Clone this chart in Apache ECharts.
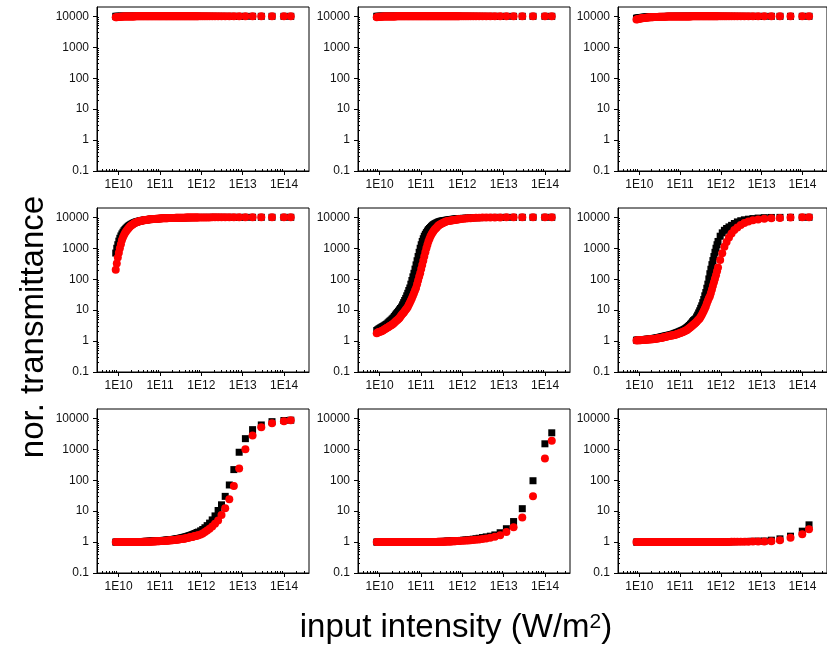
<!DOCTYPE html>
<html>
<head>
<meta charset="utf-8">
<script src="https://cdn.jsdelivr.net/npm/echarts@6/dist/echarts.min.js"></script>
<style>
    html, body { margin: 0; padding: 0; background: #fff; }
    #chart { width: 827px; height: 651px; }
</style>
</head>
<body>
<div id="chart"></div>
<script>
// input intensity (W/m2), shared by every panel
const intensity = [
    8.51e9, 9.02e9, 9.55e9, 1.012e10, 1.07e10, 1.135e10, 1.20e10, 1.274e10, 1.35e10, 1.429e10,
    1.51e10, 1.603e10, 1.70e10, 1.799e10, 1.91e10, 2.018e10, 2.14e10, 2.265e10, 2.40e10, 2.541e10,
    2.69e10, 2.851e10, 3.02e10, 3.199e10, 3.39e10, 3.589e10, 3.80e10, 4.027e10, 4.27e10, 4.519e10,
    4.79e10, 5.07e10, 5.37e10, 5.69e10, 6.03e10, 6.38e10, 6.76e10, 7.16e10, 7.59e10, 8.04e10,
    8.51e10, 9.02e10, 9.55e10, 1.012e11, 1.07e11, 1.135e11, 1.20e11, 1.274e11, 1.35e11, 1.429e11,
    1.51e11, 1.603e11, 1.70e11, 1.799e11, 1.91e11, 2.018e11, 2.14e11, 2.265e11, 2.40e11, 2.541e11,
    2.69e11, 2.851e11, 3.02e11, 3.199e11, 3.39e11, 3.589e11, 3.80e11, 4.027e11, 4.27e11, 4.519e11,
    4.79e11, 5.07e11, 5.37e11, 5.69e11, 6.03e11, 6.38e11, 6.76e11, 7.16e11, 7.59e11, 8.04e11,
    8.51e11, 9.6e11, 1.08e12, 1.22e12, 1.38e12, 1.58e12, 1.83e12, 2.14e12, 2.54e12, 3.07e12,
    3.77e12, 4.74e12, 6.1e12, 8.2e12, 1.16e13, 1.73e13, 2.81e13, 5.1e13, 9.9e13, 1.45e14
];

// row 1
const blackA = [
    10000, 10000, 10000, 10000, 10000, 10000, 10000, 10000, 10000, 10000,
    10000, 10000, 10000, 10000, 10000, 10000, 10000, 10000, 10000, 10000,
    10000, 10000, 10000, 10000, 10000, 10000, 10000, 10000, 10000, 10000,
    10000, 10000, 10000, 10000, 10000, 10000, 10000, 10000, 10000, 10000,
    10000, 10000, 10000, 10000, 10000, 10000, 10000, 10000, 10000, 10000,
    10000, 10000, 10000, 10000, 10000, 10000, 10000, 10000, 10000, 10000,
    10000, 10000, 10000, 10000, 10000, 10000, 10000, 10000, 10000, 10000,
    10000, 10000, 10000, 10000, 10000, 10000, 10000, 10000, 10000, 10000,
    10000, 10000, 10000, 10000, 10000, 10000, 10000, 10000, 10000, 10000,
    10000, 10000, 10000, 10000, 10000, 10000, 10000, 10000, 10000, 10000
];
const redA = [
    9300, 9400, 9500, 9580, 9650, 9700, 9750, 9780, 9800, 9830,
    9850, 9880, 9900, 9900, 9900, 9930, 9950, 9950, 9950, 9980,
    10000, 10000, 10000, 10000, 10000, 10000, 10000, 10000, 10000, 10000,
    10000, 10000, 10000, 10000, 10000, 10000, 10000, 10000, 10000, 10000,
    10000, 10000, 10000, 10000, 10000, 10000, 10000, 10000, 10000, 10000,
    10000, 10000, 10000, 10000, 10000, 10000, 10000, 10000, 10000, 10000,
    10000, 10000, 10000, 10000, 10000, 10000, 10000, 10000, 10000, 10000,
    10000, 10000, 10000, 10000, 10000, 10000, 10000, 10000, 10000, 10000,
    10000, 10000, 10000, 10000, 10000, 10000, 10000, 10000, 10000, 10000,
    10000, 10000, 10000, 10000, 10000, 10000, 10000, 10000, 10000, 10000
];
const blackB = [
    10000, 10000, 10000, 10000, 10000, 10000, 10000, 10000, 10000, 10000,
    10000, 10000, 10000, 10000, 10000, 10000, 10000, 10000, 10000, 10000,
    10000, 10000, 10000, 10000, 10000, 10000, 10000, 10000, 10000, 10000,
    10000, 10000, 10000, 10000, 10000, 10000, 10000, 10000, 10000, 10000,
    10000, 10000, 10000, 10000, 10000, 10000, 10000, 10000, 10000, 10000,
    10000, 10000, 10000, 10000, 10000, 10000, 10000, 10000, 10000, 10000,
    10000, 10000, 10000, 10000, 10000, 10000, 10000, 10000, 10000, 10000,
    10000, 10000, 10000, 10000, 10000, 10000, 10000, 10000, 10000, 10000,
    10000, 10000, 10000, 10000, 10000, 10000, 10000, 10000, 10000, 10000,
    10000, 10000, 10000, 10000, 10000, 10000, 10000, 10000, 10000, 10000
];
const redB = [
    9400, 9500, 9600, 9650, 9700, 9750, 9800, 9830, 9850, 9880,
    9900, 9900, 9900, 9930, 9950, 9950, 9950, 9950, 9950, 9980,
    10000, 10000, 10000, 10000, 10000, 10000, 10000, 10000, 10000, 10000,
    10000, 10000, 10000, 10000, 10000, 10000, 10000, 10000, 10000, 10000,
    10000, 10000, 10000, 10000, 10000, 10000, 10000, 10000, 10000, 10000,
    10000, 10000, 10000, 10000, 10000, 10000, 10000, 10000, 10000, 10000,
    10000, 10000, 10000, 10000, 10000, 10000, 10000, 10000, 10000, 10000,
    10000, 10000, 10000, 10000, 10000, 10000, 10000, 10000, 10000, 10000,
    10000, 10000, 10000, 10000, 10000, 10000, 10000, 10000, 10000, 10000,
    10000, 10000, 10000, 10000, 10000, 10000, 10000, 10000, 10000, 10000
];
const blackC = [
    8700, 8800, 8900, 9000, 9100, 9180, 9250, 9330, 9400, 9450,
    9500, 9550, 9600, 9630, 9650, 9680, 9700, 9730, 9750, 9780,
    9800, 9810, 9830, 9850, 9860, 9870, 9880, 9890, 9900, 9900,
    9910, 9920, 9920, 9930, 9930, 9940, 9940, 9950, 9950, 9950,
    9950, 9960, 9960, 9960, 9960, 9970, 9970, 9970, 9970, 9980,
    9980, 9980, 9980, 9980, 9980, 9990, 9990, 9990, 9990, 9990,
    9990, 9990, 10000, 10000, 10000, 10000, 10000, 10000, 10000, 10000,
    10000, 10000, 10000, 10000, 10000, 10000, 10000, 10000, 10000, 10000,
    10000, 10000, 10000, 10000, 10000, 10000, 10000, 10000, 10000, 10000,
    10000, 10000, 10000, 10000, 10000, 10000, 10000, 10000, 10000, 10000
];
const redC = [
    7900, 8050, 8200, 8330, 8450, 8580, 8700, 8800, 8900, 8980,
    9050, 9130, 9200, 9250, 9300, 9350, 9400, 9440, 9480, 9520,
    9550, 9580, 9600, 9630, 9650, 9680, 9700, 9720, 9740, 9760,
    9780, 9800, 9810, 9830, 9840, 9850, 9860, 9870, 9880, 9890,
    9900, 9900, 9910, 9910, 9920, 9920, 9930, 9930, 9940, 9940,
    9950, 9950, 9950, 9950, 9960, 9960, 9960, 9960, 9970, 9970,
    9970, 9970, 9980, 9980, 9980, 9980, 9980, 9980, 9990, 9990,
    9990, 9990, 9990, 9990, 10000, 10000, 10000, 10000, 10000, 10000,
    10000, 10000, 10000, 10000, 10000, 10000, 10000, 10000, 10000, 10000,
    10000, 10000, 10000, 10000, 10000, 10000, 10000, 10000, 10000, 10000
];

// row 2
const blackD = [
    700, 1000, 1300, 1700, 2100, 2500, 2900, 3300, 3700, 4050,
    4400, 4750, 5100, 5400, 5700, 5950, 6200, 6450, 6700, 6900,
    7100, 7250, 7400, 7550, 7700, 7830, 7950, 8050, 8150, 8250,
    8350, 8430, 8500, 8580, 8650, 8730, 8800, 8850, 8900, 8950,
    9000, 9050, 9100, 9150, 9200, 9250, 9300, 9330, 9350, 9380,
    9400, 9430, 9450, 9480, 9500, 9530, 9550, 9580, 9600, 9630,
    9650, 9680, 9700, 9710, 9720, 9740, 9750, 9770, 9780, 9790,
    9800, 9810, 9820, 9830, 9840, 9850, 9860, 9870, 9880, 9890,
    9900, 9910, 9920, 9930, 9940, 9950, 9960, 9970, 9975, 9980,
    9985, 9990, 9990, 9995, 10000, 10000, 10000, 10000, 10000, 10000
];
const redD = [
    200, 320, 500, 720, 1000, 1350, 1800, 2250, 2700, 3100,
    3500, 3900, 4300, 4700, 5100, 5450, 5800, 6100, 6400, 6650,
    6900, 7100, 7300, 7450, 7600, 7750, 7900, 8000, 8100, 8200,
    8300, 8400, 8500, 8580, 8650, 8730, 8800, 8850, 8900, 8950,
    9000, 9050, 9100, 9150, 9200, 9250, 9300, 9330, 9350, 9380,
    9400, 9430, 9450, 9480, 9500, 9530, 9550, 9580, 9600, 9630,
    9650, 9680, 9700, 9710, 9720, 9740, 9750, 9770, 9780, 9790,
    9800, 9810, 9820, 9830, 9840, 9850, 9860, 9870, 9880, 9890,
    9900, 9910, 9920, 9930, 9940, 9950, 9960, 9970, 9975, 9980,
    9985, 9990, 9990, 9995, 10000, 10000, 10000, 10000, 10000, 10000
];
const blackE = [
    2.2, 2.32, 2.45, 2.57, 2.7, 2.82, 2.95, 3.1, 3.25, 3.42,
    3.6, 3.9, 4.2, 4.5, 4.8, 5.2, 5.6, 6.2, 6.9, 7.6,
    8.3, 9.2, 10.2, 11.3, 12.6, 14.8, 17.4, 20.5, 24, 29,
    35, 43, 52, 69, 91, 119, 155, 212, 290, 395,
    540, 740, 1000, 1300, 1660, 2030, 2450, 2830, 3200, 3600,
    4000, 4350, 4700, 5100, 5500, 5800, 6100, 6350, 6600, 6850,
    7100, 7280, 7450, 7580, 7700, 7800, 7900, 8000, 8100, 8200,
    8300, 8400, 8500, 8580, 8650, 8730, 8800, 8880, 8950, 9030,
    9100, 9200, 9300, 9400, 9500, 9580, 9650, 9720, 9780, 9830,
    9870, 9900, 9930, 9950, 9970, 9980, 9990, 10000, 10000, 10000
];
const redE = [
    1.8, 1.88, 1.95, 2.0, 2.05, 2.12, 2.2, 2.32, 2.45, 2.57,
    2.7, 2.82, 2.95, 3.1, 3.25, 3.42, 3.6, 3.9, 4.2, 4.5,
    4.8, 5.2, 5.6, 6.2, 6.9, 7.6, 8.3, 9.2, 10.2, 11.3,
    12.6, 14.8, 17.4, 20.5, 24, 29, 35, 43, 52, 69,
    91, 119, 155, 212, 290, 395, 540, 740, 1000, 1300,
    1660, 2030, 2450, 2830, 3200, 3600, 4000, 4350, 4700, 5100,
    5500, 5800, 6100, 6350, 6600, 6850, 7100, 7280, 7450, 7580,
    7700, 7800, 7900, 8000, 8100, 8200, 8300, 8400, 8500, 8580,
    8650, 8800, 8950, 9100, 9250, 9400, 9500, 9600, 9700, 9780,
    9830, 9880, 9920, 9950, 9970, 9980, 9990, 10000, 10000, 10000
];
const blackF = [
    1.07, 1.075, 1.08, 1.09, 1.10, 1.105, 1.11, 1.115, 1.12, 1.13,
    1.14, 1.145, 1.15, 1.16, 1.17, 1.185, 1.20, 1.215, 1.23, 1.245,
    1.26, 1.28, 1.30, 1.325, 1.35, 1.375, 1.40, 1.425, 1.45, 1.475,
    1.50, 1.525, 1.55, 1.575, 1.60, 1.64, 1.68, 1.73, 1.78, 1.83,
    1.88, 1.94, 2.0, 2.07, 2.14, 2.21, 2.29, 2.39, 2.5, 2.64,
    2.8, 3.0, 3.2, 3.5, 3.8, 4.2, 4.6, 4.9, 5.2, 6.0,
    6.9, 8.1, 9.5, 11.5, 13.8, 17.4, 22, 29, 37, 51,
    69, 102, 150, 210, 295, 400, 540, 740, 1000, 1300,
    1660, 2450, 3150, 3800, 4350, 4900, 5500, 6300, 7100, 7750,
    8300, 8700, 9100, 9450, 9750, 9900, 9950, 10000, 10000, 10000
];
const redF = [
    1.05, 1.055, 1.06, 1.065, 1.07, 1.075, 1.08, 1.09, 1.10, 1.105,
    1.11, 1.115, 1.12, 1.13, 1.14, 1.145, 1.15, 1.16, 1.17, 1.185,
    1.20, 1.215, 1.23, 1.245, 1.26, 1.28, 1.30, 1.325, 1.35, 1.375,
    1.40, 1.425, 1.45, 1.475, 1.50, 1.525, 1.55, 1.575, 1.60, 1.64,
    1.68, 1.73, 1.78, 1.83, 1.88, 1.94, 2.0, 2.07, 2.14, 2.24,
    2.34, 2.48, 2.63, 2.8, 3.0, 3.2, 3.4, 3.65, 3.9, 4.2,
    4.6, 5.0, 5.4, 6.1, 6.9, 8.0, 9.3, 11.0, 13.2, 16.3,
    20, 24, 28, 36, 46, 61, 80, 104, 135, 180,
    240, 420, 690, 1120, 1580, 2240, 3000, 3900, 4700, 5600,
    6500, 7300, 8000, 8500, 9000, 9350, 9550, 9800, 10000, 10000
];

// row 3
const blackG = [
    1.0, 1.0, 1.0, 1.0, 1.0, 1.0, 1.0, 1.005, 1.01, 1.01,
    1.01, 1.01, 1.01, 1.015, 1.02, 1.02, 1.02, 1.02, 1.02, 1.025,
    1.03, 1.03, 1.03, 1.035, 1.04, 1.04, 1.04, 1.045, 1.05, 1.05,
    1.05, 1.055, 1.06, 1.065, 1.07, 1.075, 1.08, 1.085, 1.09, 1.095,
    1.10, 1.105, 1.11, 1.115, 1.12, 1.125, 1.13, 1.135, 1.14, 1.15,
    1.16, 1.17, 1.18, 1.19, 1.20, 1.21, 1.22, 1.235, 1.25, 1.265,
    1.28, 1.30, 1.32, 1.345, 1.37, 1.395, 1.42, 1.45, 1.48, 1.515,
    1.55, 1.59, 1.63, 1.675, 1.72, 1.775, 1.83, 1.895, 1.96, 2.03,
    2.1, 2.3, 2.55, 2.9, 3.4, 4.1, 5.2, 7.0, 10.5, 16,
    30, 70, 220, 800, 2200, 4300, 6100, 7800, 8500, 8700
];
const redG = [
    1.0, 1.0, 1.0, 1.0, 1.0, 1.0, 1.0, 1.0, 1.0, 1.0,
    1.0, 1.0, 1.0, 1.0, 1.0, 1.0, 1.0, 1.0, 1.0, 1.0,
    1.0, 1.0, 1.0, 1.0, 1.01, 1.01, 1.01, 1.015, 1.02, 1.02,
    1.02, 1.025, 1.03, 1.03, 1.03, 1.035, 1.04, 1.045, 1.05, 1.055,
    1.06, 1.065, 1.07, 1.075, 1.08, 1.085, 1.09, 1.095, 1.10, 1.105,
    1.11, 1.12, 1.13, 1.135, 1.14, 1.15, 1.16, 1.17, 1.18, 1.19,
    1.20, 1.215, 1.23, 1.245, 1.26, 1.275, 1.29, 1.31, 1.33, 1.35,
    1.37, 1.395, 1.42, 1.445, 1.47, 1.50, 1.53, 1.565, 1.60, 1.635,
    1.67, 1.75, 1.9, 2.1, 2.35, 2.7, 3.2, 3.9, 5.0, 7.5,
    12.5, 24, 65, 240, 1000, 2800, 5100, 6900, 8000, 8600
];
const blackH = [
    1.0, 1.0, 1.0, 1.0, 1.0, 1.0, 1.0, 1.0, 1.0, 1.0,
    1.0, 1.0, 1.0, 1.0, 1.0, 1.0, 1.0, 1.0, 1.0, 1.0,
    1.0, 1.0, 1.0, 1.0, 1.0, 1.0, 1.0, 1.0, 1.0, 1.0,
    1.0, 1.0, 1.0, 1.0, 1.0, 1.0, 1.0, 1.0, 1.0, 1.0,
    1.0, 1.005, 1.01, 1.01, 1.01, 1.01, 1.01, 1.01, 1.01, 1.015,
    1.02, 1.02, 1.02, 1.02, 1.02, 1.025, 1.03, 1.03, 1.03, 1.035,
    1.04, 1.04, 1.04, 1.045, 1.05, 1.05, 1.05, 1.055, 1.06, 1.065,
    1.07, 1.075, 1.08, 1.085, 1.09, 1.095, 1.10, 1.105, 1.11, 1.115,
    1.12, 1.13, 1.15, 1.17, 1.19, 1.21, 1.24, 1.28, 1.33, 1.40,
    1.47, 1.55, 1.7, 2.0, 2.7, 4.6, 12, 96, 1500, 3400
];
const redH = [
    1.0, 1.0, 1.0, 1.0, 1.0, 1.0, 1.0, 1.0, 1.0, 1.0,
    1.0, 1.0, 1.0, 1.0, 1.0, 1.0, 1.0, 1.0, 1.0, 1.0,
    1.0, 1.0, 1.0, 1.0, 1.0, 1.0, 1.0, 1.0, 1.0, 1.0,
    1.0, 1.0, 1.0, 1.0, 1.0, 1.0, 1.0, 1.0, 1.0, 1.0,
    1.0, 1.0, 1.0, 1.0, 1.0, 1.0, 1.0, 1.0, 1.0, 1.0,
    1.0, 1.0, 1.0, 1.005, 1.01, 1.01, 1.01, 1.01, 1.01, 1.015,
    1.02, 1.02, 1.02, 1.025, 1.03, 1.03, 1.03, 1.035, 1.04, 1.04,
    1.04, 1.045, 1.05, 1.055, 1.06, 1.065, 1.07, 1.075, 1.08, 1.085,
    1.09, 1.10, 1.11, 1.12, 1.13, 1.15, 1.17, 1.19, 1.22, 1.26,
    1.31, 1.38, 1.48, 1.65, 2.1, 3.0, 6.2, 30, 500, 1900
];
const blackI = [
    1.0, 1.0, 1.0, 1.0, 1.0, 1.0, 1.0, 1.0, 1.0, 1.0,
    1.0, 1.0, 1.0, 1.0, 1.0, 1.0, 1.0, 1.0, 1.0, 1.0,
    1.0, 1.0, 1.0, 1.0, 1.0, 1.0, 1.0, 1.0, 1.0, 1.0,
    1.0, 1.0, 1.0, 1.0, 1.0, 1.0, 1.0, 1.0, 1.0, 1.0,
    1.0, 1.0, 1.0, 1.0, 1.0, 1.0, 1.0, 1.0, 1.0, 1.0,
    1.0, 1.0, 1.0, 1.0, 1.0, 1.0, 1.0, 1.0, 1.0, 1.0,
    1.0, 1.0, 1.0, 1.0, 1.0, 1.0, 1.0, 1.0, 1.0, 1.0,
    1.0, 1.0, 1.0, 1.0, 1.0, 1.0, 1.0, 1.0, 1.0, 1.0,
    1.01, 1.01, 1.01, 1.02, 1.02, 1.02, 1.03, 1.03, 1.04, 1.04,
    1.04, 1.05, 1.06, 1.07, 1.08, 1.15, 1.27, 1.55, 2.25, 3.6
];
const redI = [
    1.0, 1.0, 1.0, 1.0, 1.0, 1.0, 1.0, 1.0, 1.0, 1.0,
    1.0, 1.0, 1.0, 1.0, 1.0, 1.0, 1.0, 1.0, 1.0, 1.0,
    1.0, 1.0, 1.0, 1.0, 1.0, 1.0, 1.0, 1.0, 1.0, 1.0,
    1.0, 1.0, 1.0, 1.0, 1.0, 1.0, 1.0, 1.0, 1.0, 1.0,
    1.0, 1.0, 1.0, 1.0, 1.0, 1.0, 1.0, 1.0, 1.0, 1.0,
    1.0, 1.0, 1.0, 1.0, 1.0, 1.0, 1.0, 1.0, 1.0, 1.0,
    1.0, 1.0, 1.0, 1.0, 1.0, 1.0, 1.0, 1.0, 1.0, 1.0,
    1.0, 1.0, 1.0, 1.0, 1.0, 1.0, 1.0, 1.0, 1.0, 1.0,
    1.0, 1.0, 1.0, 1.01, 1.01, 1.01, 1.02, 1.02, 1.02, 1.03,
    1.03, 1.03, 1.04, 1.04, 1.05, 1.07, 1.15, 1.38, 1.8, 2.6
];

const panels = [
    [blackA, redA], [blackB, redB], [blackC, redC],
    [blackD, redD], [blackE, redE], [blackF, redF],
    [blackG, redG], [blackH, redH], [blackI, redI]
];

const xTickValues = [1e10, 1e11, 1e12, 1e13, 1e14];
const xTickLabels = ['1E10', '1E11', '1E12', '1E13', '1E14'];
const yTickValues = [0.1, 1, 10, 100, 1000, 10000];
const yTickLabels = ['0.1', '1', '10', '100', '1000', '10000'];
const xMin = 3e9, xMax = 4e14;
const yMin = 0.1, yMax = 2e4;

// minor ticks at 2..9 of every decade inside the range
function minorTicks(lo, hi) {
    let out = [];
    for (let e = Math.floor(Math.log10(lo)); e <= Math.ceil(Math.log10(hi)); e++) {
        for (let m = 2; m <= 9; m++) {
            let v = m * Math.pow(10, e);
            if (v > lo && v < hi) {
                out.push(v);
            }
        }
    }
    return out;
}
const xMinor = minorTicks(xMin, xMax);
const yMinor = minorTicks(yMin, yMax);

const colLeft = [97, 358, 618];
const colWidth = [212, 212, 209];
const rowTop = [7, 208, 409];
const rowHeight = 164;
const font = 'Liberation Sans';

let grids = [];
let xAxes = [];
let yAxes = [];
let series = [];

panels.forEach((pair, p) => {
    let r = Math.floor(p / 3);
    let c = p % 3;
    grids.push({
        left: colLeft[c],
        top: rowTop[r],
        width: colWidth[c],
        height: rowHeight,
        show: true,
        borderColor: '#000',
        borderWidth: 1,
    });
    // main x axis: labels + outside ticks
    xAxes.push({
        type: 'log',
        gridIndex: p,
        position: 'bottom',
        min: xMin,
        max: xMax,
        axisLine: { show: true, onZero: false, lineStyle: { color: '#000', width: 1 } },
        axisTick: { show: true, customValues: xTickValues, length: 4, lineStyle: { color: '#000' } },
        axisLabel: {
            customValues: xTickValues,
            formatter: (v) => xTickLabels[Math.round(Math.log10(v)) - 10],
            color: '#111',
            fontFamily: font,
            fontSize: 12,
            margin: 8,
        },
        splitLine: { show: false },
    });
    // minor x ticks, inside
    xAxes.push({
        type: 'log',
        gridIndex: p,
        position: 'bottom',
        min: xMin,
        max: xMax,
        axisLine: { show: false, onZero: false },
        axisTick: { show: true, inside: true, customValues: xMinor, length: 2, lineStyle: { color: '#000' } },
        axisLabel: { show: false },
        splitLine: { show: false },
    });
    yAxes.push({
        type: 'log',
        gridIndex: p,
        position: 'left',
        min: yMin,
        max: yMax,
        axisLine: { show: true, onZero: false, lineStyle: { color: '#000', width: 1 } },
        axisTick: { show: true, customValues: yTickValues, length: 4, lineStyle: { color: '#000' } },
        axisLabel: {
            customValues: yTickValues,
            formatter: (v) => yTickLabels[Math.round(Math.log10(v)) + 1],
            color: '#111',
            fontFamily: font,
            fontSize: 12,
            margin: 8,
        },
        splitLine: { show: false },
    });
    yAxes.push({
        type: 'log',
        gridIndex: p,
        position: 'left',
        min: yMin,
        max: yMax,
        axisLine: { show: false, onZero: false },
        axisTick: { show: true, inside: true, customValues: yMinor, length: 2, lineStyle: { color: '#000' } },
        axisLabel: { show: false },
        splitLine: { show: false },
    });
    series.push({
        type: 'scatter',
        xAxisIndex: 2 * p,
        yAxisIndex: 2 * p,
        symbol: 'rect',
        symbolSize: 7,
        itemStyle: { color: '#000', opacity: 1 },
        data: intensity.map((x, i) => [x, pair[0][i]]),
    });
    series.push({
        type: 'scatter',
        xAxisIndex: 2 * p,
        yAxisIndex: 2 * p,
        symbol: 'circle',
        symbolSize: 8,
        itemStyle: { color: '#ff0000', opacity: 1 },
        data: intensity.map((x, i) => [x, pair[1][i]]),
    });
});

let chart = echarts.init(document.getElementById('chart'));
chart.setOption({
    animation: false,
    backgroundColor: '#fff',
    grid: grids,
    xAxis: xAxes,
    yAxis: yAxes,
    series: series,
    graphic: [
        {
            type: 'text',
            x: 34,
            y: 327,
            rotation: Math.PI / 2,
            style: {
                text: 'nor. transmittance',
                font: '33px "Liberation Sans"',
                fill: '#000',
                align: 'center',
                verticalAlign: 'middle',
            },
        },
        {
            type: 'text',
            x: 456,
            y: 628,
            style: {
                text: '{a|input intensity (W/m}{s|2}{a|)}',
                align: 'center',
                verticalAlign: 'middle',
                rich: {
                    a: { fontFamily: font, fontSize: 33, color: '#000' },
                    s: { fontFamily: font, fontSize: 21, color: '#000', verticalAlign: 'top' },
                },
            },
        },
    ],
});
</script>
</body>
</html>
